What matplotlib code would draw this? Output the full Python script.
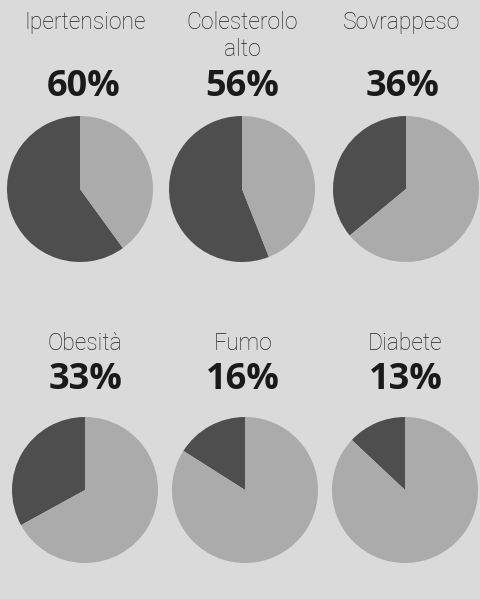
import matplotlib
matplotlib.use("Agg")
import matplotlib.pyplot as plt

labels = ["Ipertensione", "Colesterolo\nalto", "Sovrappeso", "Obesità", "Fumo", "Diabete"]
values = [60, 56, 36, 33, 16, 13]

bg = "#dadada"
dark = "#4e4e4e"
light = "#ababab"

W, H = 480, 599
fig = plt.figure(figsize=(W / 100, H / 100), dpi=100, facecolor=bg)

# pixel centres of pies, and of title / percent text
pie_xy = [(80, 189), (242, 189), (406, 189), (85, 490), (245, 490), (405, 490)]
title_xy = [(85, 22), (242, 11), (402, 22), (85, 343), (243, 343), (405, 343)]
pct_xy = [(84, 87), (242, 87), (403, 87), (86, 380), (243, 380), (406, 380)]
r = 73

for lab, v, (px, py), (tx, ty), (qx, qy) in zip(labels, values, pie_xy, title_xy, pct_xy):
    ax = fig.add_axes([(px - r) / W, 1 - (py + r) / H, 2 * r / W, 2 * r / H])
    ax.pie([v, 100 - v], colors=[dark, light], startangle=90, counterclock=True,
           wedgeprops=dict(linewidth=0))
    ax.set_aspect("equal")
    ax.set_xlim(-1, 1)
    ax.set_ylim(-1, 1)
    ax.axis("off")
    fig.text(tx / W, 1 - ty / H, lab, ha="center", va="top" if "\n" in lab else "center",
             fontsize=16.5, family="Roboto", weight="light", color="#222222",
             linespacing=1.2)
    fig.text(qx / W, 1 - qy / H, f"{v}%", ha="center", va="center",
             fontsize=26, family="Open Sans", weight="bold", color="#1a1a1a")

plt.savefig("out.png", dpi=100, facecolor=bg)
